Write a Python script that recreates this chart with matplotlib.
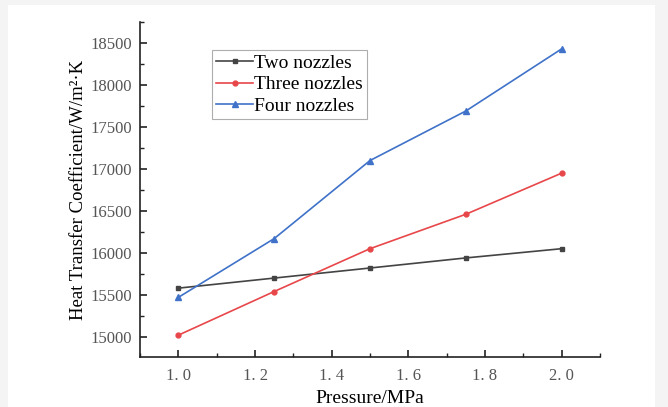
import matplotlib.pyplot as plt
from matplotlib.patches import Rectangle
from matplotlib.ticker import FuncFormatter, MultipleLocator

pressure = [1.0, 1.25, 1.5, 1.75, 2.0]
two_nozzles = [15580, 15700, 15820, 15940, 16050]
three_nozzles = [15020, 15540, 16050, 16460, 16950]
four_nozzles = [15470, 16170, 17100, 17690, 18430]

plt.rcParams['font.family'] = ['Liberation Serif', 'DejaVu Serif']

fig = plt.figure(figsize=(6.68, 4.07), dpi=100, facecolor='#f4f4f4')
fig.patches.append(Rectangle((8 / 668, 0), 647 / 668, 402 / 407, transform=fig.transFigure,
                             facecolor='white', edgecolor='none', zorder=-5))
ax = fig.add_axes([140 / 668, 1 - 357 / 407, 460 / 668, 335 / 407])
ax.set_facecolor('white')

ax.plot(pressure, two_nozzles, color='#444444', marker='s', markersize=3.5, lw=1.2, label='Two nozzles')
ax.plot(pressure, three_nozzles, color='#e8474a', marker='o', markersize=3.5, lw=1.2, label='Three nozzles')
ax.plot(pressure, four_nozzles, color='#3f72c8', marker='^', markersize=4, lw=1.2, label='Four nozzles')

ax.set_xlim(0.9, 2.1)
ax.set_ylim(14760, 18750)
ax.xaxis.set_major_locator(MultipleLocator(0.2))
ax.xaxis.set_minor_locator(MultipleLocator(0.1))
ax.yaxis.set_major_locator(MultipleLocator(500))
ax.yaxis.set_minor_locator(MultipleLocator(250))
ax.xaxis.set_major_formatter(FuncFormatter(lambda v, p: '{:.1f}'.format(v).replace('.', '. ')))

for s in ['top', 'right']:
    ax.spines[s].set_visible(False)
for s in ['left', 'bottom']:
    ax.spines[s].set_linewidth(1.2)
    ax.spines[s].set_color('#222222')

ax.tick_params(which='major', direction='in', length=5, width=1.2, labelsize=12, colors='#222222', labelcolor='#555555')
ax.tick_params(which='minor', direction='in', length=3, width=1.0, colors='#222222')
ax.tick_params(axis='x', pad=8)
ax.tick_params(axis='y', pad=6)

ax.set_xlabel('Pressure/MPa', fontsize=14, labelpad=4)
ax.set_ylabel('Heat Transfer Coefficient/W/m²·K', fontsize=13.5, labelpad=2)

leg = ax.legend(loc='upper left', bbox_to_anchor=(0.157, 0.915), fontsize=14, frameon=True, fancybox=False,
                handlelength=1.9, handletextpad=0.05, borderpad=0.2, labelspacing=0.2, borderaxespad=0)
leg.get_frame().set_edgecolor('#999999')
leg.get_frame().set_linewidth(0.8)

fig.savefig('out.png', dpi=100, facecolor=fig.get_facecolor())
